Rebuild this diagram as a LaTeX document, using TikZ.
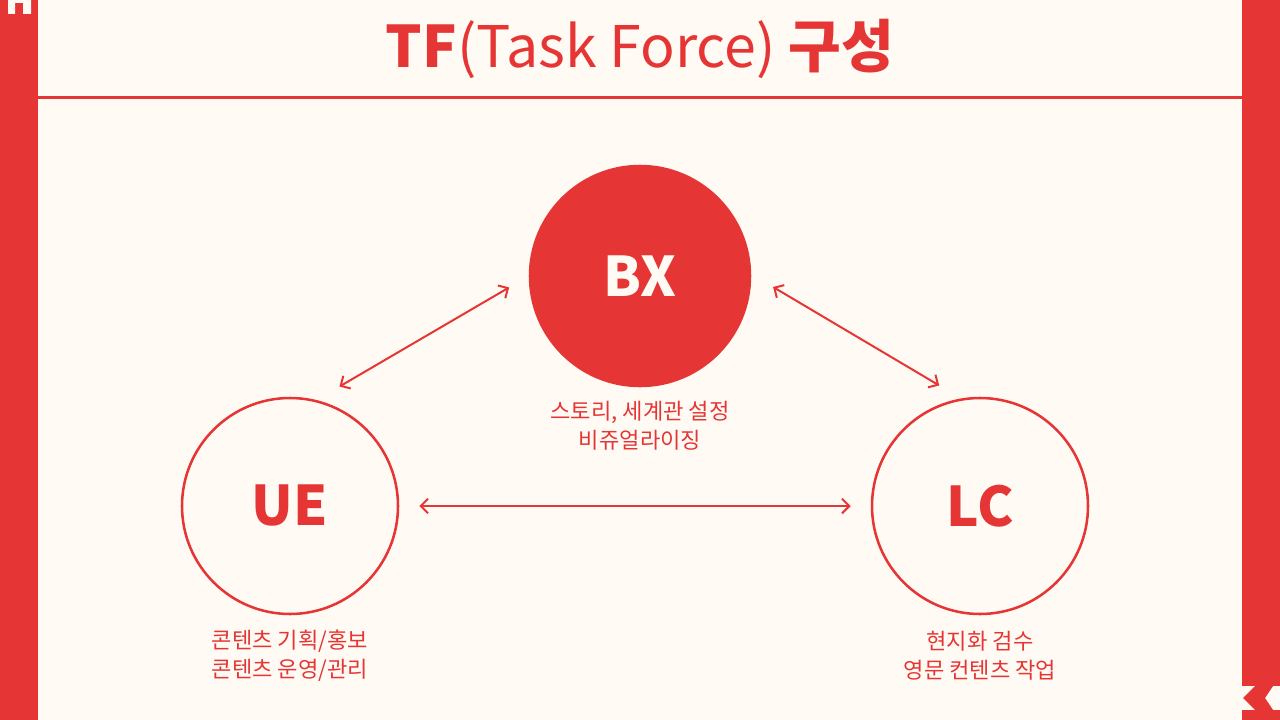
\documentclass[tikz,border=0pt]{standalone}
\usepackage{fontspec}
\setmainfont{Noto Sans CJK KR}
\usetikzlibrary{arrows.meta}
\definecolor{tfred}{HTML}{E53535}
\definecolor{tfbg}{HTML}{FFFBF4}

\begin{document}
\begin{tikzpicture}[x=0.75pt,y=-0.75pt,
  circ/.style={circle,minimum size=162pt,inner sep=0pt,line width=1.9pt,draw=tfred,
    font=\fontsize{41}{41}\selectfont\bfseries},
  lbl/.style={text=tfred,align=center,font=\fontsize{16.6}{21.75}\selectfont},
  link/.style={tfred,line width=1.5pt,>={Straight Barb[length=5.5pt,width=11pt]},<->,
    shorten <=15pt,shorten >=15pt}]
\useasboundingbox (0,0) rectangle (1280,720);
% page
\fill[tfbg] (0,0) rectangle (1280,720);
\fill[tfred] (0,0) rectangle (38,720);
\fill[tfred] (1242,0) rectangle (1280,720);
\fill[tfbg] (8,0) -- (31,0) -- (31,14) -- (23,14) -- (23,3) -- (15,3) -- (15,14) -- (8,14) -- cycle;
\fill[tfbg] (1242,686) rectangle (1280,710);
\fill[tfred] (1255,686) -- (1273,686) -- (1265,698) -- (1273,710) -- (1255,710) -- (1243,698) -- cycle;
% title
\node[anchor=base,text=tfred,font=\fontsize{43}{43}\selectfont] (title) at (640,68)
  {\bfseries TF\mdseries(Task Force) \bfseries 구성};
\fill[tfred] (38,96) rectangle (1242,99);
% teams
\node[circ,fill=tfred,minimum size=165pt,text=tfbg] (bx) at (640,276) {BX};
\node[circ,text=tfred] (ue) at (290,506) {UE};
\node[circ,text=tfred] (lc) at (980,506) {LC};
\node[lbl] (bxnote) at (640,426) {스토리, 세계관 설정\\비쥬얼라이징};
\node[lbl] (uenote) at (290,656) {콘텐츠 기획/홍보\\콘텐츠 운영/관리};
\node[lbl] (lcnote) at (980,656) {현지화 검수\\영문 컨텐츠 작업};
% links
\draw[link,shorten <=17pt,shorten >=20pt] (bx.180) -- (ue.76);
\draw[link,shorten <=19pt,shorten >=19pt] (bx.1) -- (lc.100);
\draw[link] (ue) -- (lc);
\end{tikzpicture}
\end{document}
